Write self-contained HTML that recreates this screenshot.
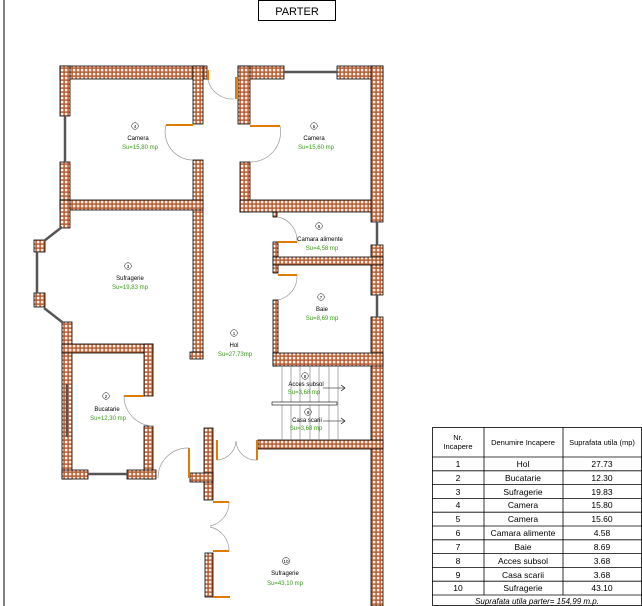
<!DOCTYPE html>
<html><head><meta charset="utf-8"><style>
body{margin:0;background:#fff;width:642px;height:606px;overflow:hidden;font-family:"Liberation Sans",sans-serif}
svg{position:absolute;left:0;top:0}
</style></head><body>
<svg width="642" height="606" viewBox="0 0 642 606" font-family="Liberation Sans, sans-serif">
<defs>
<pattern id="b" width="4" height="4" patternUnits="userSpaceOnUse">
<rect width="4" height="4" fill="#b4552a"/><rect x="0.8" y="0.8" width="2.6" height="2.6" fill="#fff3ea"/>
</pattern>
</defs>
<line x1="4" y1="0" x2="4" y2="606" stroke="#000" stroke-width="1"/>
<rect x="258.5" y="0.5" width="77" height="20" fill="#fff" stroke="#000"/>
<text x="297" y="15" font-size="11" text-anchor="middle">PARTER</text>

<g fill="url(#b)" stroke="#000" stroke-width="0.8">
<!-- room 4 -->
<rect x="60" y="66" width="147" height="13"/>
<rect x="60" y="66" width="10" height="50"/>
<rect x="60" y="162" width="10" height="48"/>
<rect x="193" y="66" width="10" height="58"/>
<rect x="193" y="160" width="10" height="198"/>
<rect x="60" y="200" width="143" height="10"/>
<rect x="190" y="352" width="13" height="7"/>
<!-- room 5 -->
<rect x="238" y="66" width="46" height="13"/>
<rect x="337" y="66" width="46" height="13"/>
<rect x="238" y="66" width="12" height="58"/>
<rect x="240" y="162" width="10" height="50"/>
<rect x="240" y="200" width="143" height="12"/>
<rect x="371" y="66" width="12" height="156"/>
<rect x="371" y="245" width="12" height="50"/>
<rect x="371" y="317" width="12" height="289"/>
<!-- room 3 -->
<rect x="60" y="200" width="10" height="28"/>
<rect x="34" y="240" width="11" height="12"/>
<rect x="34" y="293" width="11" height="14"/>
<rect x="62" y="322" width="10" height="157"/>
<!-- kitchen -->
<rect x="62" y="344" width="91" height="9"/>
<rect x="144" y="344" width="9" height="52"/>
<rect x="144" y="426" width="9" height="53"/>
<rect x="62" y="470" width="26" height="9"/>
<rect x="127" y="470" width="29" height="9"/>
<!-- 6,7 -->
<rect x="273" y="242" width="5" height="31"/>
<rect x="273" y="257" width="110" height="8"/>
<rect x="273" y="300" width="5" height="66"/>
<rect x="273" y="353" width="110" height="13"/>
<rect x="273" y="212" width="4" height="5"/>
<rect x="258" y="440" width="125" height="9"/>
<!-- central -->
<rect x="204" y="428" width="9" height="72"/>
<rect x="190" y="473" width="23" height="9"/>
<rect x="205" y="553" width="8" height="44"/>
</g>
<!-- windows -->
<g stroke="#555" stroke-width="2.5" fill="none">
<line x1="65" y1="116" x2="65" y2="162"/>
<line x1="284" y1="72" x2="337" y2="72"/>
<line x1="62" y1="227" x2="44" y2="241"/>
<line x1="37" y1="252" x2="37" y2="293"/>
<line x1="44" y1="308" x2="62" y2="322"/>
<line x1="67" y1="384" x2="67" y2="437"/>
<line x1="88" y1="474" x2="127" y2="474"/>
<line x1="377" y1="222" x2="377" y2="245"/>
<line x1="377" y1="295" x2="377" y2="317"/>
</g>
<!-- doors -->
<g stroke="#e07b00" stroke-width="2" fill="none">
<line x1="166" y1="125" x2="193" y2="125"/>
<line x1="250" y1="126" x2="280" y2="126"/>
<line x1="236" y1="77" x2="236" y2="99"/>
<line x1="208" y1="70" x2="208" y2="80"/>
<line x1="278" y1="242" x2="297" y2="242"/>
<line x1="278" y1="275" x2="297" y2="275"/>
<line x1="124" y1="396" x2="144" y2="396"/>
<line x1="189" y1="448" x2="189" y2="478"/>
<line x1="217" y1="440" x2="217" y2="460"/>
<line x1="257" y1="440" x2="257" y2="460"/>
<line x1="213" y1="502" x2="229" y2="502"/>
<line x1="213" y1="551" x2="229" y2="551"/>
<line x1="213" y1="597" x2="230" y2="597"/>
</g>
<g stroke="#999" stroke-width="0.7" fill="none">
<path d="M166 125 A28 28 0 0 0 193 160"/>
<path d="M280 126 A30 30 0 0 1 250 162"/>
<path d="M208 80 A25 25 0 0 0 234 99"/>
<path d="M297 242 A24 24 0 0 0 278 217"/>
<path d="M297 275 A24 24 0 0 1 278 300"/>
<path d="M124 396 A30 30 0 0 0 153 426"/>
<path d="M189 448 A30 30 0 0 0 158 478"/>
<path d="M217 460 A20 20 0 0 0 236 441"/>
<path d="M257 460 A20 20 0 0 1 236 441"/>
<path d="M229 502 A24 24 0 0 1 210 526"/>
<path d="M229 551 A24 24 0 0 0 210 527"/>
</g>
<!-- stairs -->
<g stroke="#777" stroke-width="0.6">
<line x1="282" y1="366" x2="282" y2="440"/><line x1="291" y1="366" x2="291" y2="440"/>
<line x1="300" y1="366" x2="300" y2="440"/><line x1="310" y1="366" x2="310" y2="440"/>
<line x1="319" y1="366" x2="319" y2="440"/><line x1="329" y1="366" x2="329" y2="440"/>
<line x1="338" y1="366" x2="338" y2="440"/>
<line x1="323" y1="388" x2="345" y2="388" stroke="#000"/>
<line x1="323" y1="421" x2="345" y2="421" stroke="#000"/>
</g>
<path d="M341 385 L345 388 L341 391 M341 418 L345 421 L341 424" stroke="#000" fill="none" stroke-width="0.6"/>
<rect x="272" y="402" width="65" height="3" fill="#fff" stroke="#000" stroke-width="0.6"/>

<!-- labels -->
<g font-size="6" text-anchor="middle">
<g fill="none" stroke="#000" stroke-width="0.5">
<circle cx="135" cy="126" r="3.3"/><circle cx="314" cy="126" r="3.3"/><circle cx="128" cy="266" r="3.3"/>
<circle cx="234" cy="333" r="3.3"/><circle cx="106" cy="396" r="3.3"/><circle cx="319" cy="226" r="3.3"/>
<circle cx="321" cy="297" r="3.3"/><circle cx="305" cy="376" r="3.3"/><circle cx="308" cy="412" r="3.3"/>
<circle cx="286" cy="561" r="3.5"/></g>
<g font-size="4.5"><text x="135" y="128">4</text><text x="314" y="128">5</text><text x="128" y="268">3</text><text x="234" y="335">1</text><text x="106" y="398">2</text><text x="319" y="228">6</text><text x="321" y="299">7</text><text x="305" y="378">8</text><text x="308" y="414">9</text><text x="286" y="563">10</text></g>
<text x="138" y="140">Camera</text><text x="314" y="140">Camera</text><text x="130" y="280">Sufragerie</text>
<text x="234" y="347">Hol</text><text x="107" y="411">Bucatarie</text><text x="320" y="241">Camara alimente</text>
<text x="322" y="311">Baie</text><text x="306" y="386">Acces subsol</text><text x="307" y="422">Casa scarii</text>
<text x="285" y="575">Sufragerie</text>
<g fill="#3a9a1a"><text x="140" y="149">Su=15,80 mp</text><text x="316" y="149">Su=15,60 mp</text>
<text x="130" y="289">Su=19,83 mp</text><text x="235" y="356">Su=27,73mp</text><text x="108" y="420">Su=12,30 mp</text>
<text x="322" y="250">Su=4,58 mp</text><text x="322" y="320">Su=8,69 mp</text><text x="304" y="394">Su=3,68 mp</text>
<text x="306" y="430">Su=3,68 mp</text><text x="285" y="585">Su=43,10 mp</text></g>
</g>

<!-- table -->
<g stroke="#000" stroke-width="0.8" fill="none">
<rect x="432.5" y="427.5" width="209" height="178"/>
<line x1="484" y1="427" x2="484" y2="595"/><line x1="563" y1="427" x2="563" y2="595"/>
<line x1="432" y1="457" x2="642" y2="457"/>
<line x1="432" y1="470.8" x2="642" y2="470.8"/><line x1="432" y1="484.6" x2="642" y2="484.6"/>
<line x1="432" y1="498.4" x2="642" y2="498.4"/><line x1="432" y1="512.2" x2="642" y2="512.2"/>
<line x1="432" y1="526" x2="642" y2="526"/><line x1="432" y1="539.8" x2="642" y2="539.8"/>
<line x1="432" y1="553.6" x2="642" y2="553.6"/><line x1="432" y1="567.4" x2="642" y2="567.4"/>
<line x1="432" y1="581.2" x2="642" y2="581.2"/><line x1="432" y1="595" x2="642" y2="595"/>
</g>
<g font-size="8.5" text-anchor="middle">
<text x="458" y="440" font-size="7.5">Nr.</text><text x="458" y="449" font-size="7.5">Incapere</text>
<text x="523" y="445" font-size="7.5">Denumire Incapere</text><text x="602" y="445" font-size="7.5">Suprafata utila (mp)</text>
<g>
<text x="458" y="467">1</text><text x="523" y="467">Hol</text><text x="602" y="467">27.73</text>
<text x="458" y="481">2</text><text x="523" y="481">Bucatarie</text><text x="602" y="481">12.30</text>
<text x="458" y="495">3</text><text x="523" y="495">Sufragerie</text><text x="602" y="495">19.83</text>
<text x="458" y="508">4</text><text x="523" y="508">Camera</text><text x="602" y="508">15.80</text>
<text x="458" y="522">5</text><text x="523" y="522">Camera</text><text x="602" y="522">15.60</text>
<text x="458" y="536">6</text><text x="523" y="536">Camara alimente</text><text x="602" y="536">4.58</text>
<text x="458" y="550">7</text><text x="523" y="550">Baie</text><text x="602" y="550">8.69</text>
<text x="458" y="564">8</text><text x="523" y="564">Acces subsol</text><text x="602" y="564">3.68</text>
<text x="458" y="578">9</text><text x="523" y="578">Casa scarii</text><text x="602" y="578">3.68</text>
<text x="458" y="591">10</text><text x="523" y="591">Sufragerie</text><text x="602" y="591">43.10</text>
</g>
<text x="537" y="604" font-style="italic" font-size="8">Suprafata utila parter= 154,99 m.p.</text>
</g>
</svg>
</body></html>
